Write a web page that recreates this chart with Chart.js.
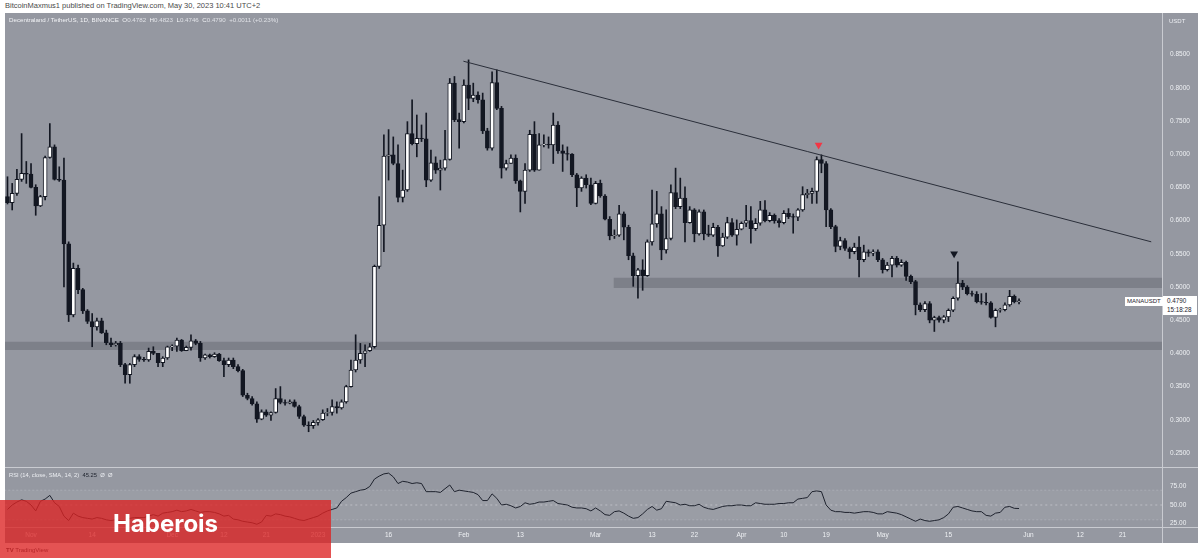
<!DOCTYPE html>
<html>
<head>
<meta charset="utf-8">
<script src="https://cdn.jsdelivr.net/npm/chart.js@4.4.0/dist/chart.umd.min.js"></script>
<style>
    body { margin: 0; width: 1200px; height: 560px; background: #fff; position: relative; overflow: hidden; font-family: "Liberation Sans", Arial, sans-serif; }
    #frame { position: absolute; left: 5px; top: 13px; width: 1193px; height: 530px; background: #9598a1; }
    canvas { position: absolute; left: 5px; }
    #mainCanvas { top: 14px; }
    #rsiCanvas { top: 468px; }
    .hline { position: absolute; left: 5px; width: 1193px; height: 1px; background: #c9cbd1; }
    .vline { position: absolute; left: 1162px; top: 13px; width: 1px; height: 530px; background: #c9cbd1; }
    #pub { position: absolute; left: 5px; top: 1px; font-size: 7.5px; color: #4a4a4a; white-space: nowrap; }
    #title { position: absolute; left: 9px; top: 16px; font-size: 6.2px; color: #f2f3f6; white-space: nowrap; }
    #title i { font-style: normal; color: #dfe1e6; }
    #rsiLegend { position: absolute; left: 9px; top: 472px; font-size: 5.8px; color: #eceef2; white-space: nowrap; }
    #rsiLegend b { font-weight: normal; color: #1e222d; }
    #usdt { position: absolute; left: 1169px; top: 18px; font-size: 6px; color: #eceef2; }
    #symTag { position: absolute; left: 1125px; top: 297px; height: 9px; line-height: 9px; padding: 0 2px; background: #fff; color: #1e222d; font-size: 6px; }
    #priceTag { position: absolute; left: 1163px; top: 296px; width: 34px; height: 19px; background: #fff; color: #1e222d; font-size: 6.3px; line-height: 8.5px; padding-left: 4px; box-sizing: border-box; padding-top: 1px; }
    #tvlogo { position: absolute; left: 6px; top: 547px; font-size: 6px; color: #2a2e39; white-space: nowrap; }
    #brand { position: absolute; left: 0; top: 500px; width: 331px; height: 58px; background: rgba(221, 35, 35, 0.78); }
    #brand span { position: absolute; left: 0; width: 331px; top: 12px; text-align: center; font-family: Inter, "Liberation Sans", sans-serif; font-weight: 700; font-size: 24px; line-height: 24px; color: #fff; }
</style>
</head>
<body>
<div id="pub">BitcoinMaxmus1 published on TradingView.com, May 30, 2023 10:41 UTC+2</div>
<div id="frame"></div>
<canvas id="mainCanvas" width="1193" height="453"></canvas>
<canvas id="rsiCanvas" width="1193" height="75"></canvas>
<div class="hline" style="top:467px"></div>
<div class="hline" style="top:527px"></div>
<div class="vline"></div>
<div id="title">Decentraland / TetherUS, 1D, BINANCE&nbsp; O<i>0.4782</i>&nbsp; H<i>0.4823</i>&nbsp; L<i>0.4746</i>&nbsp; C<i>0.4790</i>&nbsp; <i>+0.0011 (+0.23%)</i></div>
<div id="rsiLegend">RSI (14, close, SMA, 14, 2)&nbsp; <b>45.25</b>&nbsp; Ø&nbsp; Ø</div>
<div id="usdt">USDT</div>
<div id="symTag">MANAUSDT</div>
<div id="priceTag">0.4790<br>15:18:28</div>
<div id="tvlogo"><b>TV</b> TradingView</div>
<div id="brand"><span>Haberois</span></div>

<script>
// Dzienne świece MANA/USDT, 27.10.2022 – 30.05.2023 (indeks 0 = 27 paź)
const firstOpen = 0.636;
const closes = [
    .627, .641, .662, .671, .670, .650, .622, .636, .695, .711,
    .662, .661, .565, .458, .528, .496, .464, .448, .440, .449,
    .431, .416, .413, .415, .383, .368, .383, .395, .391, .390,
    .403, .400, .386, .393, .410, .411, .420, .404, .409, .419,
    .415, .393, .398, .395, .399, .389, .383, .390, .380, .374,
    .337, .332, .324, .301, .312, .307, .311, .332, .326, .325,
    .327, .320, .305, .292, .291, .296, .300, .310, .311, .320,
    .318, .327, .350, .375, .390, .400, .404, .410, .531, .593,
    .697, .699, .686, .635, .646, .731, .716, .724, .723, .661,
    .687, .676, .679, .692, .807, .752, .749, .804, .784, .789,
    .782, .735, .709, .808, .769, .679, .686, .694, .660, .644,
    .676, .730, .676, .714, .715, .714, .744, .705, .701, .700,
    .669, .649, .664, .654, .626, .656, .637, .602, .577, .578,
    .610, .590, .547, .517, .526, .517, .568, .595, .610, .556,
    .573, .642, .621, .634, .597, .616, .580, .613, .580, .578,
    .590, .562, .575, .597, .578, .587, .596, .600, .588, .596,
    .616, .600, .608, .600, .597, .611, .606, .605, .616, .639,
    .641, .644, .692, .686, .616, .591, .561, .570, .558, .553,
    .560, .541, .553, .551, .553, .541, .526, .533, .543, .533,
    .537, .516, .508, .473, .466, .475, .450, .454, .450, .455,
    .465, .483, .506, .500, .490, .489, .478, .477, .476, .454,
    .465, .466, .473, .486, .478, .479
];
const highs = [
    .666, .656, .677, .731, .689, .686, .654, .638, .697, .746,
    .714, .681, .694, .568, .536, .533, .498, .466, .460, .453,
    .453, .435, .423, .418, .418, .385, .385, .398, .398, .394,
    .408, .410, .400, .395, .411, .413, .423, .421, .411, .428,
    .421, .418, .399, .399, .401, .400, .393, .393, .393, .383,
    .376, .340, .335, .327, .315, .315, .312, .347, .350, .330,
    .330, .330, .322, .307, .297, .299, .302, .315, .317, .330,
    .327, .330, .352, .390, .428, .415, .413, .415, .533, .636,
    .729, .737, .726, .714, .676, .749, .782, .759, .744, .762,
    .706, .696, .691, .736, .814, .817, .762, .812, .842, .807,
    .794, .792, .739, .824, .827, .772, .691, .699, .699, .661,
    .686, .736, .749, .731, .729, .726, .762, .749, .714, .711,
    .701, .671, .666, .669, .664, .659, .661, .639, .606, .586,
    .623, .613, .593, .551, .528, .541, .571, .646, .644, .621,
    .616, .654, .679, .664, .651, .621, .618, .616, .616, .593,
    .596, .593, .581, .605, .603, .601, .598, .623, .621, .603,
    .629, .630, .612, .610, .603, .615, .618, .610, .618, .651,
    .647, .649, .696, .699, .689, .618, .593, .575, .573, .560,
    .566, .576, .563, .556, .556, .556, .543, .537, .546, .546,
    .541, .539, .518, .510, .476, .478, .478, .456, .456, .457,
    .467, .485, .538, .510, .502, .494, .493, .490, .491, .478,
    .467, .468, .476, .495, .488, .4823
];
const lows = [
    .625, .616, .638, .659, .656, .649, .608, .621, .631, .694,
    .661, .659, .500, .448, .455, .490, .460, .445, .410, .435,
    .430, .413, .410, .411, .380, .355, .355, .380, .388, .388,
    .388, .398, .380, .380, .391, .404, .403, .403, .404, .405,
    .413, .388, .391, .393, .394, .388, .365, .380, .377, .372,
    .335, .330, .322, .296, .300, .305, .299, .310, .324, .322,
    .324, .319, .302, .290, .282, .287, .292, .299, .306, .307,
    .310, .316, .325, .349, .372, .385, .380, .403, .408, .528,
    .553, .661, .684, .628, .628, .644, .714, .696, .719, .651,
    .659, .671, .646, .676, .691, .749, .709, .747, .767, .779,
    .777, .731, .706, .706, .767, .664, .676, .686, .656, .613,
    .626, .674, .674, .676, .711, .709, .686, .701, .674, .691,
    .666, .621, .644, .649, .624, .625, .635, .601, .571, .573,
    .576, .571, .541, .501, .483, .495, .516, .563, .590, .541,
    .551, .571, .618, .618, .568, .596, .568, .578, .571, .576,
    .576, .546, .561, .573, .576, .563, .586, .591, .566, .585,
    .593, .598, .598, .596, .590, .595, .603, .581, .600, .614,
    .634, .626, .626, .672, .591, .588, .553, .556, .555, .543,
    .550, .515, .538, .546, .547, .538, .521, .524, .515, .530,
    .531, .510, .505, .458, .463, .463, .446, .433, .447, .446,
    .448, .463, .480, .496, .488, .486, .476, .474, .473, .453,
    .440, .462, .464, .471, .476, .4746
];
const rsi = [
    44, 50, 54, 57, 55, 50, 42, 55, 58, 63,
    53, 48, 35, 29, 39, 35, 33, 32, 31, 33,
    32, 30, 29, 30, 29, 28, 32, 33, 33, 33,
    35, 37, 35, 39, 40, 41, 43, 41, 42, 44,
    42, 40, 41, 41, 40, 38, 35, 36, 31, 30,
    28, 27, 26, 24, 27, 36, 35, 38, 37, 35,
    34, 32, 30, 29, 31, 33, 35, 39, 42, 44,
    46, 55, 60, 66, 68, 70, 71, 75, 85, 89,
    92, 93, 88, 79, 82, 81, 79, 80, 79, 68,
    68, 68, 67, 72, 77, 68, 70, 69, 68, 67,
    64, 56, 56, 65, 59, 50, 51, 49, 46, 48,
    53, 51, 52, 54, 54, 55, 56, 52, 51, 50,
    47, 46, 46, 45, 42, 46, 42, 37, 36, 41,
    42, 39, 35, 32, 33, 38, 44, 48, 43, 45,
    55, 54, 53, 50, 51, 49, 49, 51, 47, 45,
    44, 46, 48, 49, 49, 50, 50, 49, 49, 53,
    52, 51, 51, 51, 52, 52, 53, 53, 58, 59,
    60, 68, 69, 68, 50, 43, 41, 41, 40, 40,
    39, 40, 41, 41, 40, 38, 38, 41, 40, 39,
    37, 34, 31, 28, 31, 29, 28, 29, 30, 33,
    38, 47, 48, 46, 44, 42, 41, 41, 36, 35,
    39, 40, 47, 48, 45.5, 45.25
];

const priceTicks = [0.25, 0.30, 0.35, 0.40, 0.45, 0.50, 0.55, 0.60, 0.65, 0.70, 0.75, 0.80, 0.85];
const rsiTicks = [25, 50, 75];
const timeTickPos = [5, 18, 35, 46, 55, 66, 81, 97, 109, 125, 137, 146, 156, 165, 174, 186, 200, 217, 228, 237];
const timeTickLabels = ['Nov', '14', 'Dec', '12', '21', '2023', '16', 'Feb', '13', 'Mar', '13', '22', 'Apr', '10', '19', 'May', '15', 'Jun', '12', '21'];

// Rysunki: strefy wsparcia, linia trendu, znaczniki
const supportLow = [0.405, 0.4175];
const supportHigh = [0.4985, 0.514];
const supportHighFrom = 128.8;
const trendLine = [[96.9, 0.840], [243.1, 0.568]];
const markerRed = [172.4, 0.714];
const markerBlack = [201.2, 0.550];

const X_MIN = -0.53, X_MAX = 245.6;
const DARK = '#131722';
const AXIS_TXT = '#eef0f3';

const opens = closes.map((c, i) => i === 0 ? firstOpen : closes[i - 1]);

// Bez dodatkowego marginesu od etykiet osi — obszar wykresu = cały canvas
function noPad(s) {
    s.paddingTop = 0; s.paddingBottom = 0;
    s.paddingLeft = 0; s.paddingRight = 0;
}

function zone(from, band, color) {
    return {
        type: 'line',
        data: [{ x: from, y: band[1] }, { x: X_MAX + 1, y: band[1] }],
        borderWidth: 0, pointRadius: 0,
        backgroundColor: color,
        fill: { value: band[0] },
        order: 5
    };
}

function marker(pt, color) {
    return {
        type: 'line', showLine: false,
        data: [{ x: pt[0], y: pt[1] }],
        pointStyle: 'triangle', rotation: 180, pointRadius: 4.5,
        backgroundColor: color, borderColor: color, borderWidth: 0,
        order: 0
    };
}

function rightAxis(min, max, ticks, digits) {
    return {
        position: 'right', min, max,
        afterBuildTicks: s => { s.ticks = ticks.map(v => ({ value: v })); },
        afterFit: s => { s.width = 35; noPad(s); },
        grid: { display: false, drawTicks: false },
        border: { display: false },
        ticks: { color: AXIS_TXT, padding: 7, font: { size: 6.5, family: 'Liberation Sans' }, callback: v => v.toFixed(digits) }
    };
}

// Panel główny — świece
new Chart(document.getElementById('mainCanvas'), {
    type: 'bar',
    data: {
        datasets: [
            {
                data: closes.map((c, i) => ({ x: i, y: [opens[i], c] })),
                backgroundColor: closes.map((c, i) => c >= opens[i] ? '#ffffff' : DARK),
                borderColor: DARK, borderWidth: 1, borderSkipped: false,
                barThickness: 4, grouped: false, order: 1
            },
            {
                data: closes.map((c, i) => ({ x: i, y: [lows[i], highs[i]] })),
                backgroundColor: DARK, barThickness: 1, grouped: false, order: 2
            },
            {
                type: 'line',
                data: trendLine.map(p => ({ x: p[0], y: p[1] })),
                borderColor: '#2a2e39', borderWidth: 1, pointRadius: 0, order: 0
            },
            zone(X_MIN - 1, supportLow, 'rgba(80,82,92,0.35)'),
            zone(supportHighFrom, supportHigh, 'rgba(80,82,92,0.35)'),
            marker(markerRed, '#f23645'),
            marker(markerBlack, DARK)
        ]
    },
    options: {
        responsive: false, animation: false, devicePixelRatio: 1,
        layout: { padding: 0, autoPadding: false },
        plugins: { legend: { display: false }, tooltip: { enabled: false } },
        scales: {
            x: { type: 'linear', min: X_MIN, max: X_MAX, offset: false, display: false },
            y: rightAxis(0.2289, 0.9111, priceTicks, 4)
        }
    }
});

// Panel RSI + oś czasu
new Chart(document.getElementById('rsiCanvas'), {
    type: 'line',
    data: {
        datasets: [
            {
                data: rsi.map((v, i) => ({ x: i, y: v })),
                borderColor: '#1e222d', borderWidth: 1, pointRadius: 0, tension: 0
            },
            {
                data: [{ x: X_MIN - 1, y: 70 }, { x: X_MAX + 1, y: 70 }],
                borderColor: 'rgba(255,255,255,0.18)', borderWidth: 1, borderDash: [2, 2],
                pointRadius: 0, backgroundColor: 'rgba(255,255,255,0.05)', fill: { value: 30 }
            },
            {
                data: [{ x: X_MIN - 1, y: 30 }, { x: X_MAX + 1, y: 30 }],
                borderColor: 'rgba(255,255,255,0.18)', borderWidth: 1, borderDash: [2, 2], pointRadius: 0
            },
            {
                data: [{ x: X_MIN - 1, y: 50 }, { x: X_MAX + 1, y: 50 }],
                borderColor: 'rgba(255,255,255,0.35)', borderWidth: 1, borderDash: [2, 3], pointRadius: 0
            }
        ]
    },
    options: {
        responsive: false, animation: false, devicePixelRatio: 1,
        layout: { padding: { top: 1, left: 0, right: 0, bottom: 0 }, autoPadding: false },
        plugins: { legend: { display: false }, tooltip: { enabled: false } },
        scales: {
            x: {
                type: 'linear', min: X_MIN, max: X_MAX, offset: false,
                afterBuildTicks: s => { s.ticks = timeTickPos.map(v => ({ value: v })); },
                afterFit: s => { s.height = 16; noPad(s); },
                grid: { display: false, drawTicks: false },
                border: { display: false },
                ticks: {
                    autoSkip: false, maxRotation: 0, padding: 4, color: AXIS_TXT,
                    font: { size: 6.5, family: 'Liberation Sans' },
                    callback: (v, i) => timeTickLabels[i]
                }
            },
            y: rightAxis(20.3, 98.6, rsiTicks, 2)
        }
    }
});
</script>
</body>
</html>
